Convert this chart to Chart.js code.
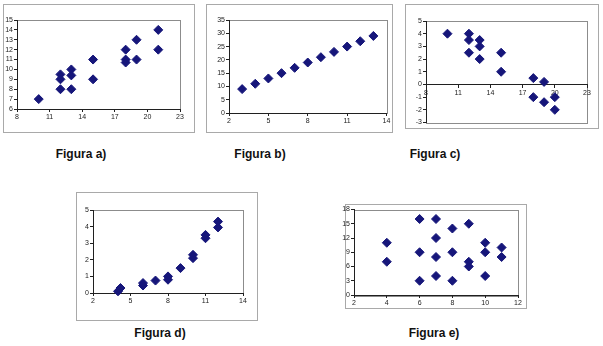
<!DOCTYPE html>
<html>
<head>
<meta charset="utf-8">
<script src="https://cdn.jsdelivr.net/npm/chart.js@4/dist/chart.umd.min.js"></script>
<style>
  html,body{margin:0;padding:0;background:#fff;}
  body{width:603px;height:346px;position:relative;overflow:hidden;font-family:"Liberation Sans",Arial,sans-serif;}
  .frame{position:absolute;border:1px solid #a9a9a9;box-sizing:border-box;}
  canvas{position:absolute;}
  .cap{position:absolute;width:120px;margin-left:-60px;text-align:center;font-weight:bold;font-size:12px;line-height:14px;color:#111;}
</style>
</head>
<body>
<div class="cap" style="left:81px;top:147px">Figura a)</div>
<div class="cap" style="left:260px;top:147px">Figura b)</div>
<div class="cap" style="left:435px;top:147px">Figura c)</div>
<div class="cap" style="left:160px;top:326px">Figura d)</div>
<div class="cap" style="left:434px;top:326px">Figura e)</div>
<script>
/* ---- data ---- */
const aX = [10, 12, 12, 12, 13, 13, 13, 15, 15, 18, 18, 18, 19, 19, 21, 21];
const aY = [7, 9.5, 9, 8, 10, 9.4, 8, 11, 9, 12, 11, 10.7, 13, 11, 14, 12];
const aXTicks = [8, 11, 14, 17, 20, 23];
const aYTicks = [6, 7, 8, 9, 10, 11, 12, 13, 14, 15];

const bX = [3, 4, 5, 6, 7, 8, 9, 10, 11, 12, 13];
const bY = [9, 11, 13, 15, 17, 19, 21, 23, 25, 27, 29];
const bXTicks = [2, 5, 8, 11, 14];
const bYTicks = [0, 5, 10, 15, 20, 25, 30, 35];

const cX = [10, 12, 12, 12, 13, 13, 13, 15, 15, 18, 19, 18, 19, 20, 20];
const cY = [4, 4, 3.5, 2.5, 3.5, 3, 2, 2.5, 1, 0.5, 0.2, -1, -1.4, -1, -2];
const cXTicks = [8, 11, 14, 17, 20, 23];
const cYTicks = [-3, -2, -1, 0, 1, 2, 3, 4, 5];

const dX = [4, 4.2, 6, 6, 7, 8, 8, 9, 10, 10, 11, 11, 12, 12];
const dY = [0.1, 0.3, 0.45, 0.6, 0.75, 0.8, 1, 1.5, 2.1, 2.3, 3.3, 3.5, 3.95, 4.3];
const dXTicks = [2, 5, 8, 11, 14];
const dYTicks = [0, 1, 2, 3, 4, 5];

const eX = [4, 4, 6, 6, 6, 7, 7, 7, 7, 8, 8, 8, 9, 9, 9, 10, 10, 10, 11, 11];
const eY = [11, 7, 16, 9, 3, 16, 12, 8, 4, 14, 9, 3, 15, 7, 6, 11, 9, 4, 10, 8];
const eXTicks = [2, 4, 6, 8, 10, 12];
const eYTicks = [0, 3, 6, 9, 12, 15, 18];

/* ---- layout: outer frame and plot area, page px (left, top, right, bottom) ---- */
const FRAME = {a:[3,4,194,132], b:[206,4,392,132], c:[405,4,598,128], d:[76,192,257,320], e:[345,204,526,308]};
const PLOT  = {a:[17,20,180,109], b:[229,20,387,113], c:[426,21,587,123], d:[93,210,243,293], e:[354,209,518,295]};
const SPILL = 8; // canvas reaches this far left of the frame so tick labels can overhang it

const NAVY = '#16167a', AXIS = '#202020', BOX = '#8c8c8c', TXT = '#222';

// grey plot-area border, drawn before the axes so those sit on top
const plotBorder = {
  id:'plotBorder',
  beforeDraw(ch){
    const a = ch.chartArea, ctx = ch.ctx;
    ctx.save(); ctx.strokeStyle = BOX; ctx.lineWidth = 1;
    ctx.strokeRect(Math.round(a.left)+0.5, Math.round(a.top)+0.5, Math.round(a.right-a.left), Math.round(a.bottom-a.top));
    ctx.restore();
  }
};

function axis(ticks, fitFn, extra){
  return Object.assign({
    type:'linear', min:ticks[0], max:ticks[ticks.length-1],
    afterBuildTicks: s => { s.ticks = ticks.map(v => ({value:v})); },
    afterFit: fitFn,
    grid:{drawOnChartArea:false, drawTicks:true, tickLength:3, color:AXIS},
    border:{display:true, color:AXIS, width:1},
    ticks:{color:TXT, padding:1, font:{family:'Liberation Sans', size:7}, maxRotation:0, autoSkip:false}
  }, extra || {});
}

function panel(key, xs, ys, xTicks, yTicks, xAtZero){
  const f = FRAME[key], p = PLOT[key];
  const W = f[2]-f[0], H = f[3]-f[1];
  const fr = document.createElement('div');
  fr.className = 'frame';
  Object.assign(fr.style, {left:f[0]+'px', top:f[1]+'px', width:(W+1)+'px', height:(H+1)+'px'});
  const cv = document.createElement('canvas');
  const CW = W + SPILL;
  cv.width = CW; cv.height = H;
  Object.assign(cv.style, {left:(f[0]-SPILL)+'px', top:f[1]+'px', width:CW+'px', height:H+'px'});
  document.body.append(fr, cv);

  new Chart(cv, {
    type:'scatter',
    data:{datasets:[{
      data: xs.map((x,i) => ({x, y:ys[i]})),
      pointStyle:'rectRot', radius:4.5, hoverRadius:4.5,
      backgroundColor:NAVY, borderColor:NAVY, borderWidth:1, clip:false
    }]},
    options:{
      responsive:false, animation:false, events:[],
      layout:{padding:{top:p[1]-f[1], right:f[2]-p[2], left:0, bottom: xAtZero ? f[3]-p[3] : 0}},
      plugins:{legend:{display:false}, tooltip:{enabled:false}},
      scales:{
        x: axis(xTicks, s => { s.height = xAtZero ? 0 : f[3]-p[3]; }, xAtZero ? {position:{y:0}} : {position:'bottom'}),
        y: axis(yTicks, s => { s.width = p[0]-f[0]+SPILL; }, {position:'left'})
      }
    },
    plugins:[plotBorder]
  });
}

panel('a', aX, aY, aXTicks, aYTicks, false);
panel('b', bX, bY, bXTicks, bYTicks, false);
panel('c', cX, cY, cXTicks, cYTicks, true);
panel('d', dX, dY, dXTicks, dYTicks, false);
panel('e', eX, eY, eXTicks, eYTicks, false);
</script>
</body>
</html>
